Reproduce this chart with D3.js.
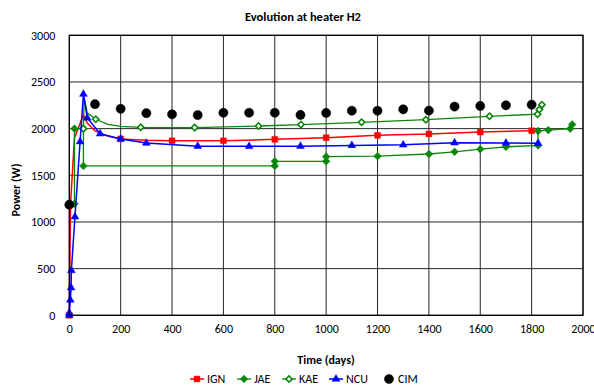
<!DOCTYPE html>
<html>
<head>
<meta charset="utf-8">
<script src="https://cdn.jsdelivr.net/npm/d3@7"></script>
<style>
  body { margin: 0; background: #fff; }
  text { font-family: Carlito, Lato, "Open Sans", sans-serif; fill: #000; }
</style>
</head>
<body>
<svg id="chart"></svg>
<script>
// IGN (red squares) - markers only where ignMark is 1
const ignDays = [0, 5, 20, 55, 70, 100, 150, 200, 300, 400, 600, 800, 1000, 1200, 1400, 1600, 1800]
const ignPower = [0, 1200, 1900, 2150, 2060, 1975, 1920, 1890, 1876, 1870, 1870, 1885, 1903, 1928, 1943, 1963, 1978]
const ignMark = [1, 0, 0, 0, 0, 0, 0, 1, 0, 1, 1, 1, 1, 1, 1, 1, 1]

// JAE (filled green diamonds)
const jaeDays = [20, 20, 55, 55, 800, 800, 1000, 1000, 1200, 1400, 1500, 1600, 1700, 1825, 1825, 1865, 1950, 1958]
const jaePower = [1195, 2000, 2000, 1600, 1600, 1650, 1650, 1700, 1705, 1728, 1752, 1780, 1805, 1820, 1975, 1985, 2000, 2045]

// KAE (open green diamonds)
const kaeDays = [55, 58, 70, 103, 150, 200, 278, 488, 737, 902, 1138, 1388, 1636, 1823, 1830, 1840]
const kaePower = [2000, 2330, 2170, 2100, 2045, 2025, 2014, 2011, 2028, 2043, 2068, 2096, 2132, 2155, 2205, 2255]
const kaeMark = [1, 0, 0, 1, 0, 0, 1, 1, 1, 1, 1, 1, 1, 1, 1, 1]

// NCU (blue triangles)
const ncuDays = [0, 0, 4, 7, 8, 22, 42, 55, 70, 120, 200, 300, 500, 700, 900, 1100, 1300, 1500, 1700, 1825]
const ncuPower = [0, 25, 165, 295, 480, 1055, 1860, 2370, 2115, 1945, 1890, 1845, 1812, 1810, 1812, 1820, 1826, 1848, 1846, 1843]

// CIM (black dots, no line)
const cimDays = [0, 100, 200, 300, 400, 500, 600, 700, 800, 900, 1000, 1100, 1200, 1300, 1400, 1500, 1600, 1700, 1800]
const cimPower = [1185, 2262, 2212, 2166, 2153, 2145, 2170, 2170, 2170, 2147, 2168, 2192, 2192, 2207, 2193, 2236, 2243, 2250, 2257]

const xTicks = [0, 200, 400, 600, 800, 1000, 1200, 1400, 1600, 1800, 2000]
const yTicks = [0, 500, 1000, 1500, 2000, 2500, 3000]

const width = 594
const height = 389
const fs = 12

const svg = d3.select("#chart").attr("width", width).attr("height", height)

const x = d3.scaleLinear().domain([0, 2000]).range([69.3, 583])
const y = d3.scaleLinear().domain([0, 3000]).range([315.3, 35.3])

const zip = (days, power, mark) =>
  days.map((d, i) => ({ day: d, power: power[i], mark: mark ? mark[i] : 1 }))

const series = [
  { name: "IGN", color: "#ff0000", data: zip(ignDays, ignPower, ignMark), line: true, symbol: d3.symbolSquare, size: 34, rotate: 0, fill: true, lw: 1.5 },
  { name: "JAE", color: "#0a870a", data: zip(jaeDays, jaePower), line: true, symbol: d3.symbolSquare, size: 30, rotate: 45, fill: true, lw: 1.3 },
  { name: "KAE", color: "#0a870a", data: zip(kaeDays, kaePower, kaeMark), line: true, symbol: d3.symbolSquare, size: 20, rotate: 45, fill: false, lw: 1.3 },
  { name: "NCU", color: "#0000ff", data: zip(ncuDays, ncuPower), line: true, symbol: d3.symbolTriangle, size: 26, rotate: 0, fill: true, lw: 1.5 },
  { name: "CIM", color: "#000000", data: zip(cimDays, cimPower), line: false, symbol: d3.symbolCircle, size: 66, rotate: 0, fill: true, lw: 0 },
]

// gridlines
const grid = svg.append("g").attr("stroke", "#262626").attr("stroke-width", 1)
grid.selectAll(".vg").data(xTicks).join("line")
  .attr("x1", (d) => x(d)).attr("x2", (d) => x(d))
  .attr("y1", y(0)).attr("y2", y(3000))
grid.selectAll(".hg").data(yTicks).join("line")
  .attr("x1", x(0)).attr("x2", x(2000))
  .attr("y1", (d) => y(d)).attr("y2", (d) => y(d))

// axes (labels only)
const xAxis = svg.append("g")
  .attr("transform", `translate(0,${y(0) + 4})`)
  .call(d3.axisBottom(x).tickValues(xTicks).tickSize(0).tickFormat(d3.format("d")))
xAxis.select(".domain").remove()
xAxis.selectAll("text").attr("font-size", fs).attr("dy", "0.9em")

const yAxis = svg.append("g")
  .attr("transform", `translate(${x(0) - 11},0)`)
  .call(d3.axisLeft(y).tickValues(yTicks).tickSize(0).tickFormat(d3.format("d")))
yAxis.select(".domain").remove()
yAxis.selectAll("text").attr("font-size", fs)

// titles
svg.append("text").attr("x", 303).attr("y", 21).attr("text-anchor", "middle")
  .attr("font-size", 12.5).attr("font-weight", "bold").text("Evolution at heater H2")
svg.append("text").attr("x", 326).attr("y", 364).attr("text-anchor", "middle")
  .attr("font-size", fs).attr("font-weight", "bold").text("Time (days)")
svg.append("text").attr("transform", "translate(20,190) rotate(-90)").attr("text-anchor", "middle")
  .attr("font-size", fs).attr("font-weight", "bold").text("Power (W)")

const line = d3.line().x((d) => x(d.day)).y((d) => y(d.power))

const drawMarker = (sel, s) =>
  sel.attr("d", d3.symbol().type(s.symbol).size(s.size))
    .attr("fill", s.fill ? s.color : "#fff")
    .attr("stroke", s.color)
    .attr("stroke-width", s.fill ? 0.5 : 1.6)

series.forEach((s) => {
  const g = svg.append("g")
  if (s.line) {
    g.append("path").datum(s.data).attr("d", line)
      .attr("fill", "none").attr("stroke", s.color).attr("stroke-width", s.lw)
  }
  g.selectAll("path.m").data(s.data.filter((d) => d.mark)).join("path")
    .attr("class", "m")
    .attr("transform", (d) => `translate(${x(d.day)},${y(d.power)}) rotate(${s.rotate})`)
    .call(drawMarker, s)
})

// plot border
svg.append("rect").attr("x", x(0)).attr("y", y(3000))
  .attr("width", x(2000) - x(0)).attr("height", y(0) - y(3000))
  .attr("fill", "none").attr("stroke", "#000").attr("stroke-width", 1.2)

// legend
const legendX = [190, 237, 282, 329, 382]
const legend = svg.append("g").attr("transform", "translate(0,379)")
series.forEach((s, i) => {
  const g = legend.append("g").attr("transform", `translate(${legendX[i]},0)`)
  if (s.line) {
    g.append("line").attr("x1", 0).attr("x2", 14).attr("y1", 0).attr("y2", 0)
      .attr("stroke", s.color).attr("stroke-width", s.lw)
  }
  g.append("path").attr("transform", `translate(7,0) rotate(${s.rotate})`).call(drawMarker, s)
  g.append("text").attr("x", s.line ? 17 : 16).attr("y", 0).attr("dy", "0.35em")
    .attr("font-size", fs).text(s.name)
})
</script>
</body>
</html>
